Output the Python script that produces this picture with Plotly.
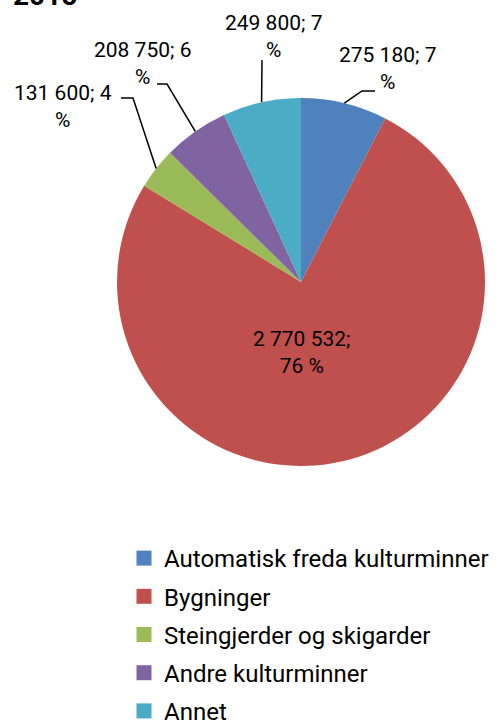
import math
import plotly.graph_objects as go

# ---- data ----
categories = ["Automatisk freda kulturminner", "Bygninger", "Steingjerder og skigarder",
              "Andre kulturminner", "Annet"]
values = [275180, 2770532, 131600, 208750, 249800]
value_labels = ["275 180", "2 770 532", "131 600", "208 750", "249 800"]
pct_labels = ["7", "76", "4", "6", "7"]
title_text = "2015"

# ---- style ----
colors = ["#4F81BD", "#C0504D", "#9BBB59", "#8064A2", "#4BACC6"]
W, H = 499, 724
CX, CY, R = 301, 282, 184          # pie centre / radius in pixels
FONT = "Roboto"

# label placement (pixel text centres, elbow points) – styling only
label_style = {
    0: dict(text=(387, 69), elbow=(362, 91), end=(375, 91)),
    1: dict(text=(301, 352)),
    2: dict(text=(63, 107), elbow=(133, 98), end=(121, 98)),
    3: dict(text=(142, 63), elbow=(167, 84), end=(157, 84)),
    4: dict(text=(273, 37), elbow=(262, 60), end=(262, 60)),
}


def px(x):
    return x / W


def py(y):
    return 1 - y / H


total = sum(values)

fig = go.Figure()
fig.add_trace(go.Pie(
    labels=categories, values=values, sort=False, direction="clockwise", rotation=0,
    marker=dict(colors=colors, line=dict(width=0)),
    textinfo="none", hoverinfo="label+value+percent", showlegend=False,
    domain=dict(x=[px(CX - R), px(CX + R)], y=[py(CY + R), py(CY - R)]),
))

# legend via dummy traces (one group each so spacing can be set)
for i, (c, col) in enumerate(zip(categories, colors)):
    fig.add_trace(go.Scatter(
        x=[None], y=[None], mode="markers", name=c, legendgroup=f"g{i}",
        marker=dict(symbol="square", size=15, color=col), showlegend=True,
    ))

annotations = []
shapes = []
cum = 0
for i, v in enumerate(values):
    frac_mid = (cum + v / 2) / total
    cum += v
    ang = 2 * math.pi * frac_mid
    ax = CX + R * math.sin(ang)
    ay = CY - R * math.cos(ang)
    st = label_style[i]
    if i == 1:
        txt = f"{value_labels[i]};<br>{pct_labels[i]} %"
    else:
        txt = f"{value_labels[i]}; {pct_labels[i]}<br>%"
    tx, ty = st["text"]
    annotations.append(dict(
        x=px(tx), y=py(ty), xref="paper", yref="paper", text=txt, showarrow=False,
        font=dict(family=FONT, size=21, color="black"), align="center",
        xanchor="center", yanchor="middle",
    ))
    if "elbow" in st:
        ex, ey = st["elbow"]
        fx, fy = st["end"]
        shapes.append(dict(
            type="path", xref="paper", yref="paper",
            path=f"M {px(ax)} {py(ay)} L {px(ex)} {py(ey)} L {px(fx)} {py(fy)}",
            line=dict(color="black", width=1.5),
        ))

annotations.append(dict(
    x=px(11), y=py(-5), xref="paper", yref="paper", text=f"<b>{title_text}</b>",
    showarrow=False, font=dict(family=FONT, size=28, color="black"),
    xanchor="left", yanchor="middle",
))

fig.update_layout(
    width=W, height=H, margin=dict(l=0, r=0, t=0, b=0, autoexpand=False),
    paper_bgcolor="white", plot_bgcolor="white",
    xaxis=dict(visible=False), yaxis=dict(visible=False),
    annotations=annotations, shapes=shapes,
    legend=dict(x=px(124), y=py(536), xanchor="left", yanchor="top",
                font=dict(family=FONT, size=24, color="black"),
                tracegroupgap=4, bgcolor="rgba(0,0,0,0)"),
    font=dict(family=FONT),
)

fig.write_html("out.html", config={"displayModeBar": False},
               post_script="document.body.style.margin='0';")
